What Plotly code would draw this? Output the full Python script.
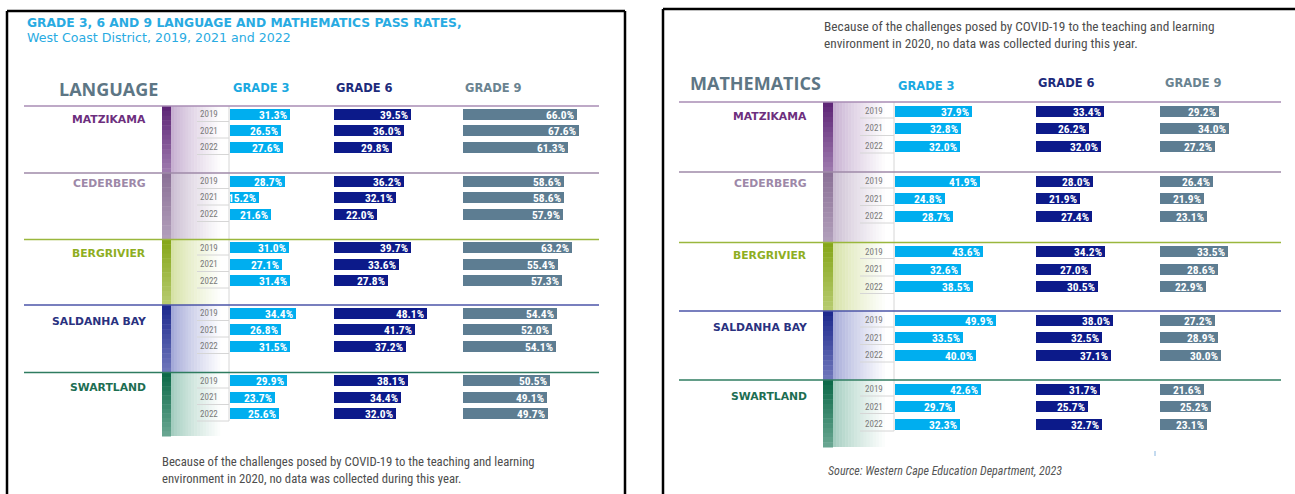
import plotly.graph_objects as go

W, H = 1295, 494

districts = ["MATZIKAMA", "CEDERBERG", "BERGRIVIER", "SALDANHA BAY", "SWARTLAND"]
years = ["2019", "2021", "2022"]
grades = ["GRADE 3", "GRADE 6", "GRADE 9"]

# pass rates (%) per district, years 2019 / 2021 / 2022
lang_g3 = [[31.3, 26.5, 27.6], [28.7, 15.2, 21.6], [31.0, 27.1, 31.4], [34.4, 26.8, 31.5], [29.9, 23.7, 25.6]]
lang_g6 = [[39.5, 36.0, 29.8], [36.2, 32.1, 22.0], [39.7, 33.6, 27.8], [48.1, 41.7, 37.2], [38.1, 34.4, 32.0]]
lang_g9 = [[66.0, 67.6, 61.3], [58.6, 58.6, 57.9], [63.2, 55.4, 57.3], [54.4, 52.0, 54.1], [50.5, 49.1, 49.7]]

maths_g3 = [[37.9, 32.8, 32.0], [41.9, 24.8, 28.7], [43.6, 32.6, 38.5], [49.9, 33.5, 40.0], [42.6, 29.7, 32.3]]
maths_g6 = [[33.4, 26.2, 32.0], [28.0, 21.9, 27.4], [34.2, 27.0, 30.5], [38.0, 32.5, 37.1], [31.7, 25.7, 32.7]]
maths_g9 = [[29.2, 34.0, 27.2], [26.4, 21.9, 23.1], [33.5, 28.6, 22.9], [27.2, 28.9, 30.0], [21.6, 25.2, 23.1]]

note = ("Because of the challenges posed by COVID-19 to the teaching and learning<br>"
        "environment in 2020, no data was collected during this year.")
source = "Source: Western Cape Education Department, 2023"

# colours
bar_colors = ["#00aeef", "#0c1a8a", "#5d7d92"]
grade_text = ["#1ba9e1", "#1d2b7c", "#6a8391"]
dist_text = ["#6d2f7e", "#9d88a8", "#8eae22", "#2a3280", "#1d6e52"]
sep_colors = ["#a88db4", "#9f8aa9", "#9ab73d", "#4b55a8", "#2f7c60"]
strip_dark = ["#5e2677", "#8b7197", "#86a71a", "#1e2a8e", "#0d6a49"]
strip_tint = ["#c7b0d1", "#cbbdd2", "#d6e2a6", "#a4a9d8", "#a3cdbf"]

HEAD = "Open Sans, Lato, sans-serif"
WIDE = "DejaVu Sans, Verdana, sans-serif"
NARROW = "Liberation Sans Narrow, Roboto Condensed, Arial Narrow, Roboto, sans-serif"

panels = [
    dict(name="LANGUAGE", values=[lang_g3, lang_g6, lang_g9],
         seps=[106, 173, 239.5, 305, 372.5], rows=[8, 24.5, 41],
         starts=[230, 334, 463], scales=[1.91, 1.94, 1.72], rng=70,
         line_x=(24, 599), label_x=148, label_dy=[13, 10, 13.5, 16.5, 14.5],
         strip_x=162, dark_w=9, vline=229, year_x=220, uline_x=197, uline_dy=7.5,
         strip_end=436, head=(57, 89), grade_x=[231, 334, 463], grade_y=[88, 88, 88]),
    dict(name="MATHEMATICS", values=[maths_g3, maths_g6, maths_g9],
         seps=[102, 172, 242.5, 311, 380], rows=[9, 26.5, 44],
         starts=[895, 1036, 1160], scales=[2.02, 2.03, 2.02], rng=60,
         line_x=(679, 1281), label_x=809, label_dy=[14.5, 11, 13, 16.5, 16.5],
         strip_x=823, dark_w=10, vline=894, year_x=885, uline_x=860, uline_dy=7,
         strip_end=447, head=(688, 83), grade_x=[896, 1036, 1163], grade_y=[86, 83, 83]),
]


def px(x):
    return x / W


def py(y):
    return 1 - y / H


def mix(c1, c2, t):
    a = [int(c1[i:i + 2], 16) for i in (1, 3, 5)]
    b = [int(c2[i:i + 2], 16) for i in (1, 3, 5)]
    return "rgb(%d,%d,%d)" % tuple(round(a[k] + (b[k] - a[k]) * t) for k in range(3))


def rect(x0, y0, x1, y1, color):
    return dict(type="rect", xref="paper", yref="paper", layer="below",
                x0=px(x0), x1=px(x1), y0=py(y1), y1=py(y0),
                fillcolor=color, line=dict(width=0))


def line(x0, y0, x1, y1, color, width=1, layer="below"):
    return dict(type="line", xref="paper", yref="paper", layer=layer,
                x0=px(x0), x1=px(x1), y0=py(y0), y1=py(y1),
                line=dict(color=color, width=width))


def text(x, y, s, size, color, family=HEAD, weight="normal", anchor="left", style="normal", valign="middle"):
    return dict(xref="paper", yref="paper", x=px(x), y=py(y), text=s, showarrow=False,
                xanchor=anchor, yanchor=valign, align=anchor,
                font=dict(size=size, color=color, family=family, weight=weight, style=style))


fig = go.Figure()
shapes, annotations = [], []
layout_axes = {}
ax_n = 0

for p_i, p in enumerate(panels):
    yname = "y" if p_i == 0 else "y2"
    layout_axes["yaxis" if p_i == 0 else "yaxis2"] = dict(
        domain=[0, 1], range=[H, 0], visible=False, fixedrange=True)
    seps = p["seps"]
    ends = seps[1:] + [p["strip_end"]]

    # row centres of each bar (district x year)
    row_y = [[seps[d] + p["rows"][j] for j in range(len(years))] for d in range(len(districts))]

    for d in range(len(districts)):
        top, bot = seps[d], ends[d]
        # coloured strip: dark bar with vertical fade, tint fading to white
        n = 14
        for k in range(n):
            y0 = top + (bot - top) * k / n
            y1 = top + (bot - top) * (k + 1) / n + 0.5
            shapes.append(rect(p["strip_x"], y0, p["strip_x"] + p["dark_w"], y1,
                               mix(strip_dark[d], strip_tint[d], 0.6 * k / (n - 1))))
        gx0 = p["strip_x"] + p["dark_w"]
        gx1 = p["vline"]
        m = 20
        for k in range(m):
            x0 = gx0 + (gx1 - gx0) * k / m
            x1 = gx0 + (gx1 - gx0) * (k + 1) / m + 0.5
            shapes.append(rect(x0, top, x1, bot, mix(strip_tint[d], "#ffffff", min(1, (k / (m - 1)) ** 0.8 * 1.1))))
        # separator line
        shapes.append(line(p["line_x"][0], top, p["line_x"][1], top, sep_colors[d], 1.5, layer="above"))
        # district label
        annotations.append(text(p["label_x"], top + p["label_dy"][d], districts[d], 10.8,
                                dist_text[d], family=WIDE, weight="bold", anchor="right"))
        # years + underlines
        for j, yr in enumerate(years):
            annotations.append(text(p["year_x"], row_y[d][j], yr, 9, "#7a7a7a", family=NARROW, anchor="right"))
            uy = row_y[d][j] + p["uline_dy"]
            shapes.append(line(p["uline_x"], uy, p["vline"], uy, "#d6d6d6", 1))

    # vertical baseline
    shapes.append(line(p["vline"], seps[0], p["vline"], row_y[-1][-1] + p["uline_dy"], "#d6d6d6", 1))

    # section heading and grade headings
    annotations.append(text(p["head"][0], p["head"][1], p["name"], 18, "#5d7685", weight=700))
    for g in range(3):
        annotations.append(text(p["grade_x"][g], p["grade_y"][g], grades[g], 11.5, grade_text[g],
                                family=WIDE, weight="bold"))

    # bars
    for g in range(3):
        ax_n += 1
        xname = "x" if ax_n == 1 else "x%d" % ax_n
        start, sc, rng = p["starts"][g], p["scales"][g], p["rng"]
        layout_axes["xaxis" if ax_n == 1 else "xaxis%d" % ax_n] = dict(
            domain=[px(start), px(start + sc * rng)], range=[0, rng],
            visible=False, fixedrange=True, anchor=yname)
        vals = [v for dv in p["values"][g] for v in dv]
        ys = [y for dy in row_y for y in dy]
        fig.add_trace(go.Bar(
            x=vals, y=ys, orientation="h", width=11,
            marker=dict(color=bar_colors[g], line=dict(width=0)),
            text=["%.1f%%" % v for v in vals],
            textposition="inside", insidetextanchor="end", constraintext="none",
            textfont=dict(color="white", size=11.5, family=NARROW, weight="bold"),
            xaxis=xname, yaxis=yname, hoverinfo="skip", showlegend=False,
        ))

# panel frames
shapes += [
    line(7, 11, 625, 11, "black", 2.5, "above"),
    line(7, 11, 7, H + 5, "black", 2.5, "above"),
    line(625, 11, 625, H + 5, "black", 2.5, "above"),
    line(663, 9, W + 5, 9, "black", 2.5, "above"),
    line(663, 9, 663, H + 5, "black", 2.5, "above"),
    line(1155, 451, 1155, 456, "#8ab6e0", 1, "above"),
]

# titles and notes
annotations += [
    text(25, 23, "GRADE 3, 6 AND 9 LANGUAGE AND MATHEMATICS PASS RATES,", 12.3, "#29abe2", family=WIDE, weight="bold"),
    text(25, 38, "West Coast District, 2019, 2021 and 2022", 12.6, "#29abe2", family=WIDE),
    text(160, 470, note, 12.7, "#4d4d4d", family=NARROW),
    text(822, 35, note, 13.3, "#4d4d4d", family=NARROW),
    text(826, 471, source, 12, "#555555", family=NARROW, style="italic"),
]

fig.update_layout(
    width=W, height=H,
    margin=dict(l=0, r=0, t=0, b=0, pad=0),
    paper_bgcolor="white", plot_bgcolor="rgba(0,0,0,0)",
    barmode="overlay", bargap=0,
    shapes=shapes, annotations=annotations,
    **layout_axes,
)

# page body has a default 8px margin; drop it so the figure sits at the window origin
fig.write_html("out.html", config={"displayModeBar": False},
               post_script="document.body.style.margin='0';")
